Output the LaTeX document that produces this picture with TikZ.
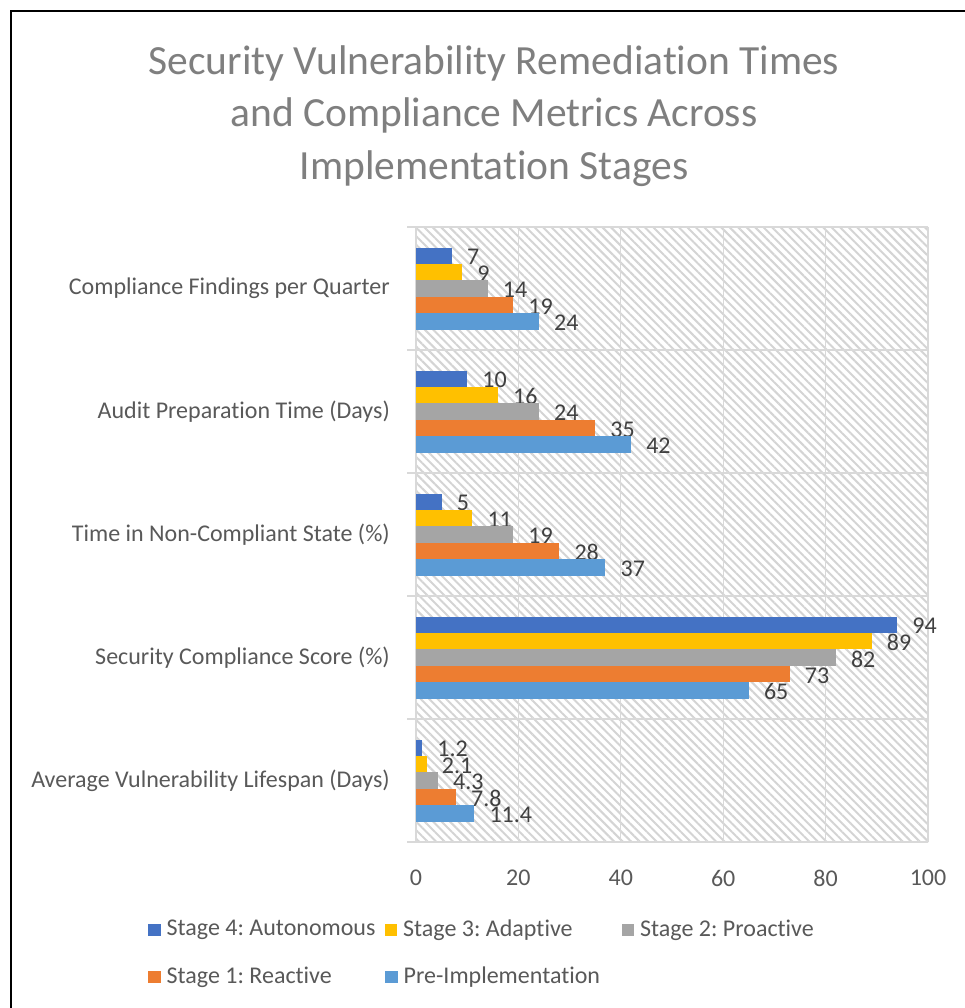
\documentclass[tikz,border=0pt]{standalone}
\usepackage{fontspec}
\setmainfont{Carlito}[Ligatures=NoCommon]
\usetikzlibrary{patterns.meta}
\frenchspacing

\definecolor{stagefour}{HTML}{4472C4}
\definecolor{stagethree}{HTML}{FFC000}
\definecolor{stagetwo}{HTML}{A5A5A5}
\definecolor{stageone}{HTML}{ED7D31}
\definecolor{preimpl}{HTML}{5B9BD5}
\definecolor{gridgray}{HTML}{D9D9D9}
\definecolor{hatchgray}{HTML}{D4D4D4}
\definecolor{labelgray}{HTML}{595959}
\definecolor{valgray}{HTML}{404040}
\definecolor{titlegray}{HTML}{7F7F7F}

\tikzset{
  titletext/.style={font=\fontsize{41.5}{52.5}\selectfont, text=titlegray, align=center},
  cattext/.style={font=\fontsize{24}{28}\selectfont, text=labelgray, anchor=east, inner sep=0pt},
  valtext/.style={font=\fontsize{24}{28}\selectfont, text=valgray, anchor=west, inner sep=0pt},
  ticktext/.style={font=\fontsize{24}{28}\selectfont, text=labelgray, inner sep=0pt},
  legtext/.style={font=\fontsize{24}{28}\selectfont, text=labelgray, anchor=west, inner sep=0pt},
  gridline/.style={draw=gridgray, line width=1.3pt},
  hatchfill/.style={pattern={Lines[angle=-45,distance=6pt,line width=2pt]}, pattern color=hatchgray},
  legkey/.style={draw=none, minimum size=12.5pt, inner sep=0pt},
}

\begin{document}
\begin{tikzpicture}[x=1pt,y=-1pt]
\useasboundingbox (0,0) rectangle (965,1008);
\fill[white] (0,0) rectangle (965,1008);

% chart frame (left and top edges)
\draw[black, line width=2.6pt] (11,1008) -- (11,11) -- (965,11);

% title
\node[titletext] (title) at (494,116) {Security Vulnerability Remediation Times\\and Compliance Metrics Across\\Implementation Stages};

% plot area background
\fill[hatchfill] (416,227) rectangle (928,842);

% vertical value gridlines
\foreach \j in {0,...,5} {
  \draw[gridline] ({416+102.4*\j},227) -- ({416+102.4*\j},842);
}
% category separators with ticks
\foreach \i in {0,...,5} {
  \draw[gridline] (407,{227+123*\i}) -- (928,{227+123*\i});
}

% value axis labels
\foreach \v [count=\j from 0] in {0,20,40,60,80,100} {
  \node[ticktext] (tick\j) at ({416+102.4*\j},878) {\v};
}

% bars: category index, label, five values (Stage 4 ... Pre-Implementation)
\foreach \c/\name/\a/\b/\d/\e/\f in {
  0/Compliance Findings per Quarter/7/9/14/19/24,
  1/Audit Preparation Time (Days)/10/16/24/35/42,
  2/Time in Non-Compliant State (\%)/5/11/19/28/37,
  3/Security Compliance Score (\%)/94/89/82/73/65,
  4/Average Vulnerability Lifespan (Days)/1.2/2.1/4.3/7.8/11.4} {
  \pgfmathsetmacro{\ctop}{227+123*\c}
  \node[cattext] (cat\c) at (390,{\ctop+61.5}) {\name};
  \foreach \val/\col [count=\k from 0] in {\a/stagefour,\b/stagethree,\d/stagetwo,\e/stageone,\f/preimpl} {
    \pgfmathsetmacro{\yc}{\ctop+20.5+8.2+16.4*\k}
    \pgfmathsetmacro{\len}{5.12*\val}
    \fill[\col] (416,{\yc-8.2}) rectangle ({416+\len},{\yc+8.2});
    \node[valtext] (val\c\k) at ({416+\len+15},{\yc+1.5}) {\val};
  }
}

% legend
\node[legkey, fill=stagefour] (k4) at (154.5,930) {};
\node[legtext] (l4) at (166.5,930) {Stage 4: Autonomous};
\node[legkey, fill=stagethree] (k3) at (391,930) {};
\node[legtext] (l3) at (403,930) {Stage 3: Adaptive};
\node[legkey, fill=stagetwo] (k2) at (628,930) {};
\node[legtext] (l2) at (640,930) {Stage 2: Proactive};
\node[legkey, fill=stageone] (k1) at (154.5,977) {};
\node[legtext] (l1) at (166.5,977) {Stage 1: Reactive};
\node[legkey, fill=preimpl] (k0) at (391.5,977) {};
\node[legtext] (l0) at (403.5,977) {Pre-Implementation};
\end{tikzpicture}
\end{document}
